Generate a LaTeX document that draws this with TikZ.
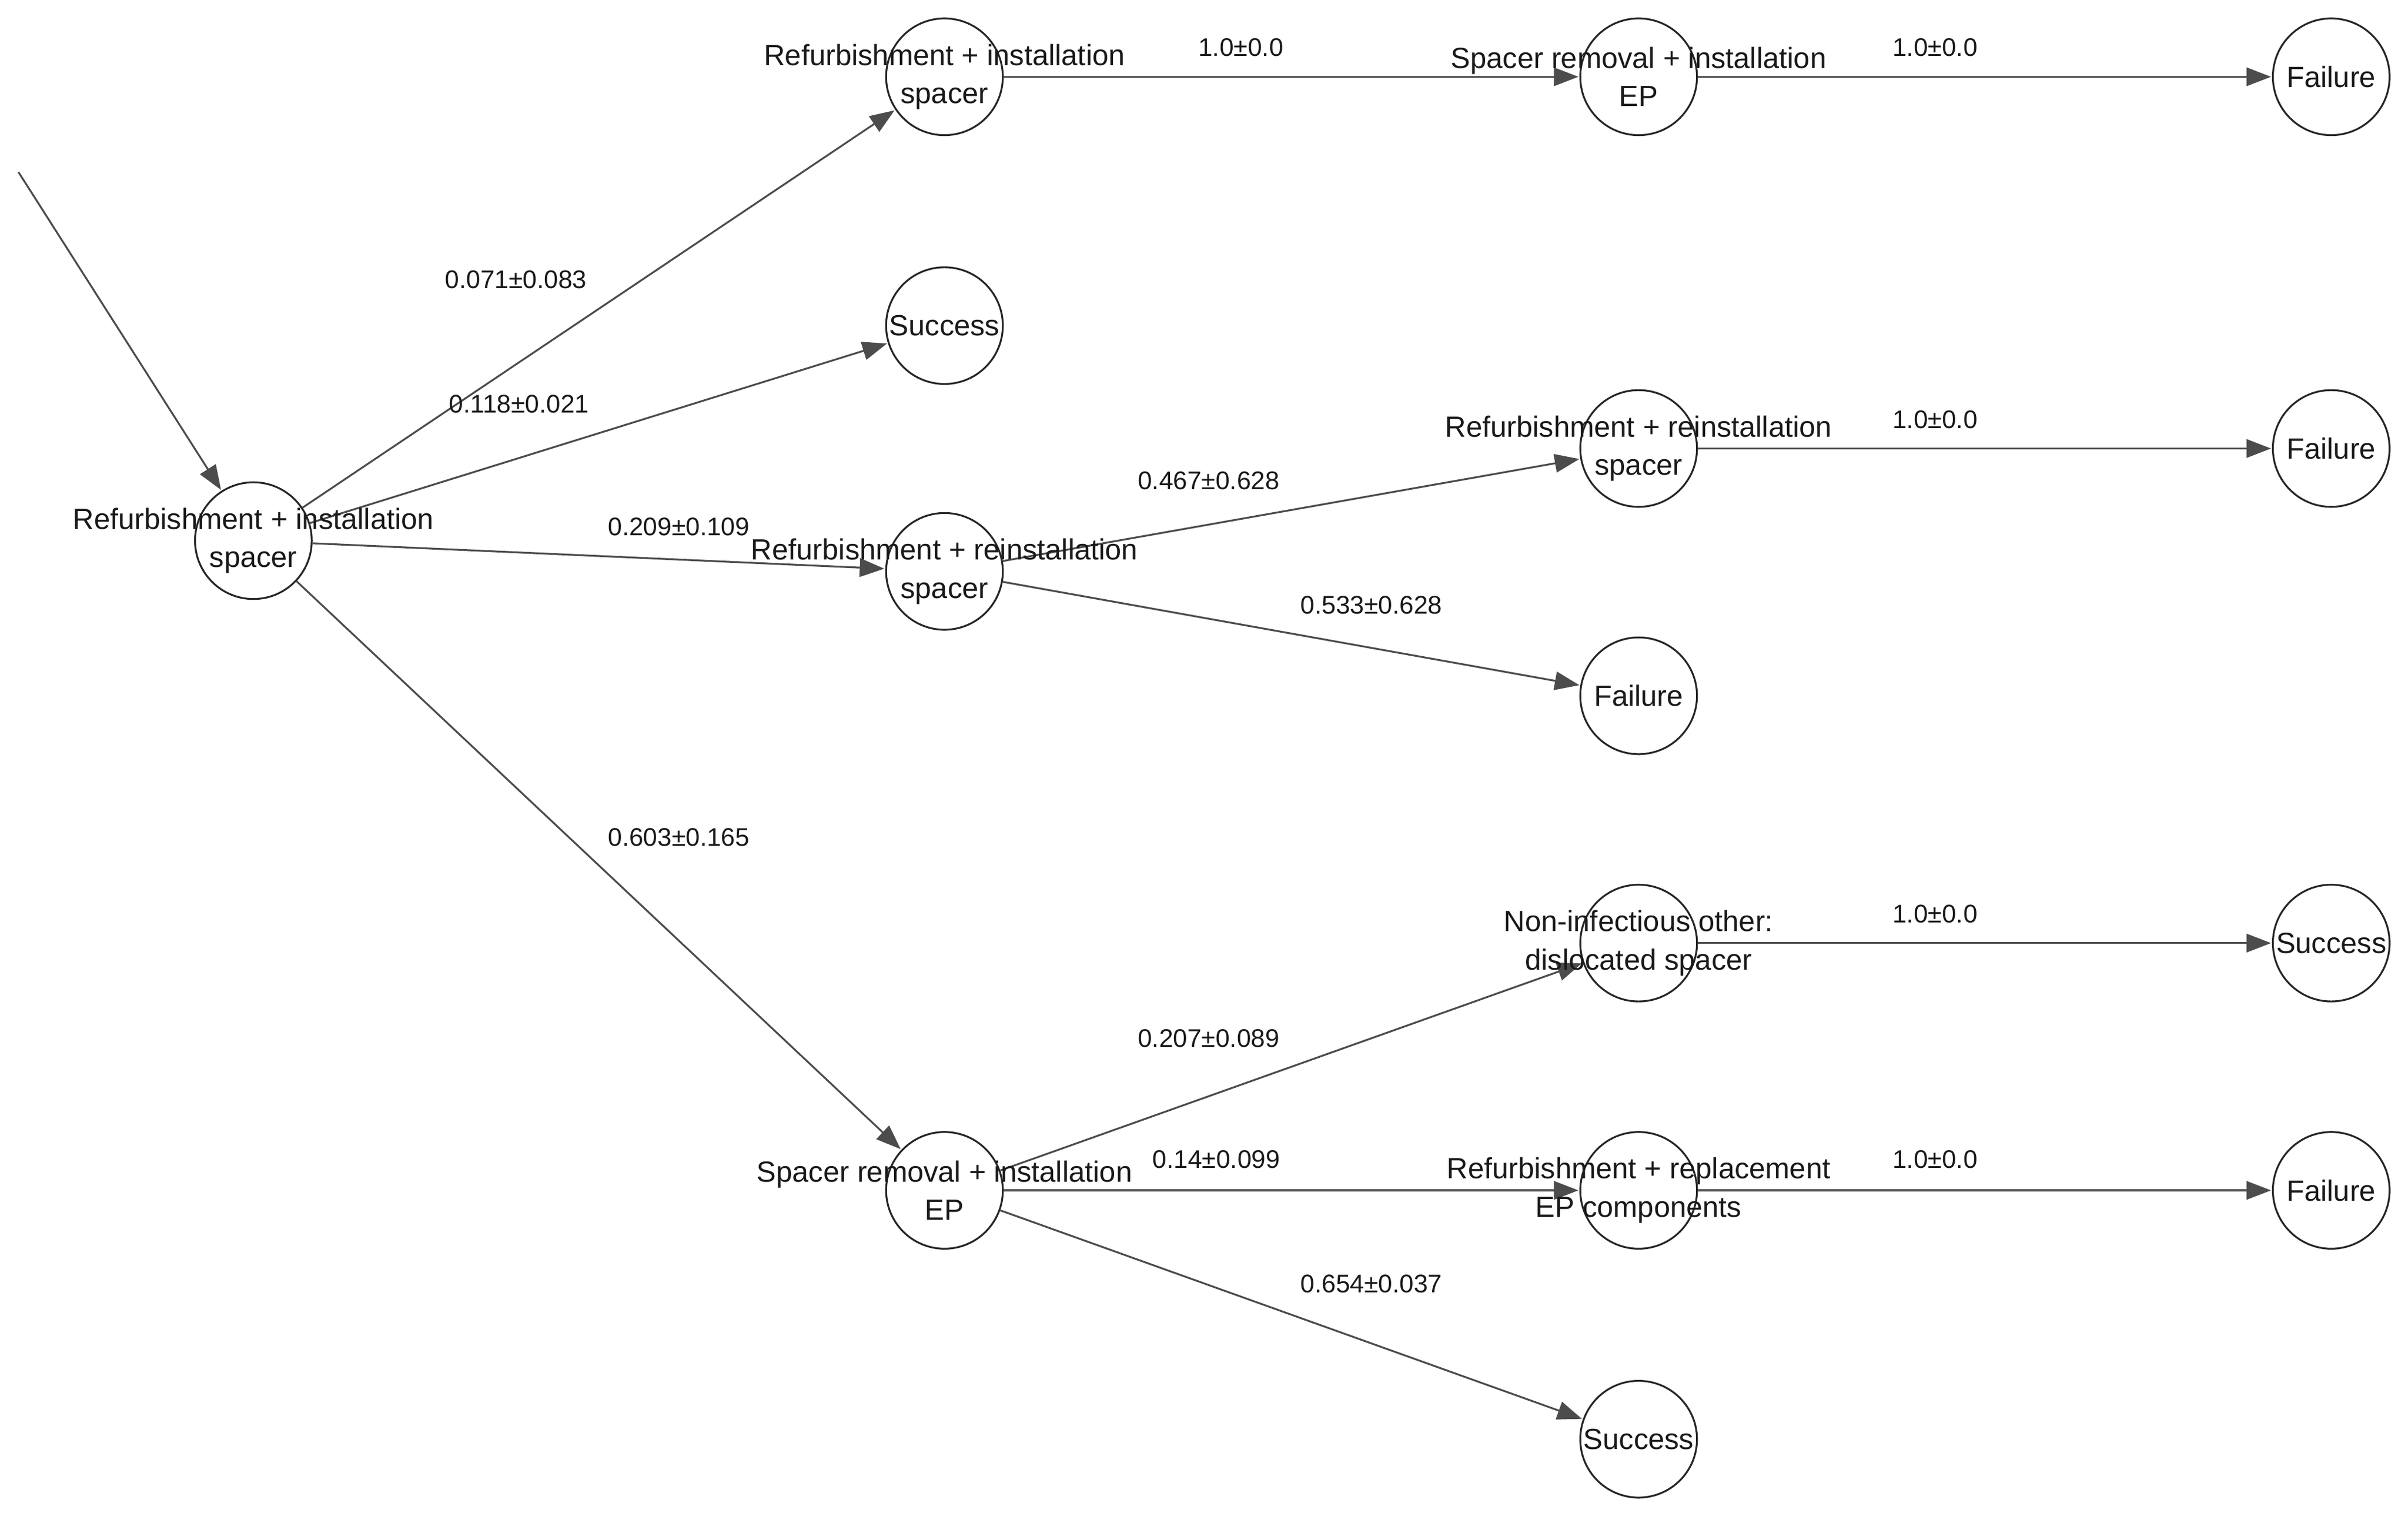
\documentclass[tikz,border=0pt]{standalone}
\usepackage{fontspec}
\setmainfont{Liberation Sans}
\usetikzlibrary{arrows.meta}
\begin{document}
\begin{tikzpicture}[x=0.5pt,y=-0.5pt,
  st/.style={circle,draw=black!85,line width=0.6pt,minimum size=38pt,inner sep=0pt},
  tx/.style={font=\fontsize{9.5}{12.5}\selectfont,align=center,text=black!90},
  el/.style={font=\fontsize{8.3}{10}\selectfont,text=black!90},
  ar/.style={draw=black!70,line width=0.6pt,-{Triangle[length=8pt,width=6pt]},shorten >=0.3pt}]
\useasboundingbox (0,0) rectangle (1568,985);
\node[st] (A) at (165,352) {};
\node[st] (B) at (615,50) {};
\node[st] (C) at (615,212) {};
\node[st] (D) at (615,372) {};
\node[st] (E) at (615,775) {};
\node[st] (F) at (1067,50) {};
\node[st] (G) at (1518,50) {};
\node[st] (H) at (1067,292) {};
\node[st] (I) at (1518,292) {};
\node[st] (J) at (1067,453) {};
\node[st] (K) at (1067,614) {};
\node[st] (L) at (1518,614) {};
\node[st] (M) at (1067,775) {};
\node[st] (N) at (1518,775) {};
\node[st] (O) at (1067,937) {};
\coordinate (S) at (12,112);
\draw[ar] (S) -- (A);
\draw[ar] (A) -- (B);
\draw[ar] (A) -- (C);
\draw[ar] (A) -- (D);
\draw[ar] (A) -- (E);
\draw[ar] (B) -- (F);
\draw[ar] (F) -- (G);
\draw[ar] (D) -- (H);
\draw[ar] (D) -- (J);
\draw[ar] (H) -- (I);
\draw[ar] (E) -- (K);
\draw[ar] (E) -- (M);
\draw[ar] (E) -- (O);
\draw[ar] (K) -- (L);
\draw[ar] (M) -- (N);
\node[tx] (tA) at (A) {Refurbishment + installation\\spacer};
\node[tx] (tB) at (B) {Refurbishment + installation\\spacer};
\node[tx] (tC) at (C) {Success};
\node[tx] (tD) at (D) {Refurbishment + reinstallation\\spacer};
\node[tx] (tE) at (E) {Spacer removal + installation\\EP};
\node[tx] (tF) at (F) {Spacer removal + installation\\EP};
\node[tx] (tG) at (G) {Failure};
\node[tx] (tH) at (H) {Refurbishment + reinstallation\\spacer};
\node[tx] (tI) at (I) {Failure};
\node[tx] (tJ) at (J) {Failure};
\node[tx] (tK) at (K) {Non-infectious other:\\dislocated spacer};
\node[tx] (tL) at (L) {Success};
\node[tx] (tM) at (M) {Refurbishment + replacement\\EP components};
\node[tx] (tN) at (N) {Failure};
\node[tx] (tO) at (O) {Success};
\node[el] (l1) at (336,182) {0.071±0.083};
\node[el] (l2) at (338,263) {0.118±0.021};
\node[el] (l3) at (442,343) {0.209±0.109};
\node[el] (l4) at (442,545) {0.603±0.165};
\node[el] (l5) at (808,31) {1.0±0.0};
\node[el] (l6) at (1260,31) {1.0±0.0};
\node[el] (l7) at (787,313) {0.467±0.628};
\node[el] (l8) at (893,394) {0.533±0.628};
\node[el] (l9) at (1260,273) {1.0±0.0};
\node[el] (l10) at (787,676) {0.207±0.089};
\node[el] (l11) at (792,755) {0.14±0.099};
\node[el] (l12) at (893,836) {0.654±0.037};
\node[el] (l13) at (1260,595) {1.0±0.0};
\node[el] (l14) at (1260,755) {1.0±0.0};
\end{tikzpicture}
\end{document}
